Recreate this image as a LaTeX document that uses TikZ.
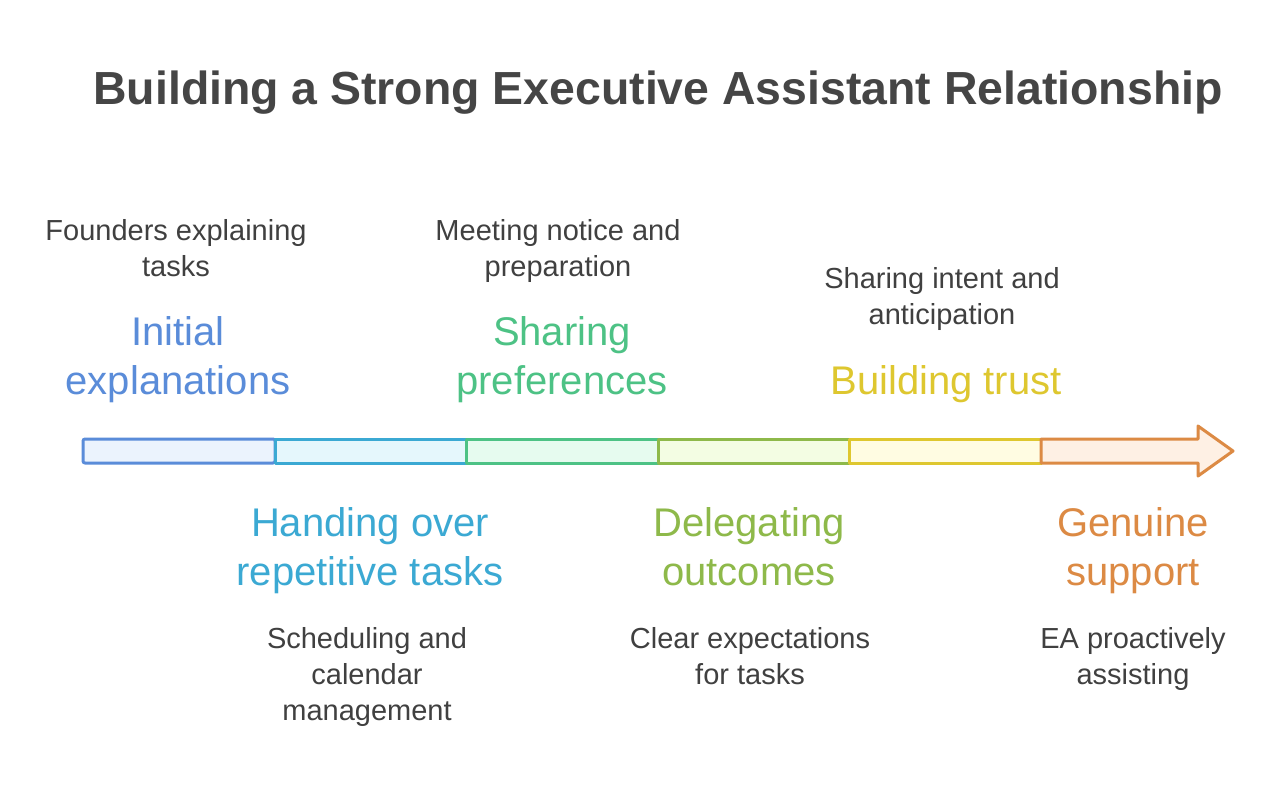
\documentclass[tikz,border=0pt]{standalone}
\usepackage{fontspec}
\setmainfont{Liberation Sans}
\definecolor{bodygray}{HTML}{404040}
\definecolor{titlegray}{HTML}{454545}
\definecolor{cA}{HTML}{5A8CD9}\definecolor{fA}{HTML}{EBF3FD}
\definecolor{cB}{HTML}{3BA9D3}\definecolor{fB}{HTML}{E5F7FC}
\definecolor{cC}{HTML}{4DC285}\definecolor{fC}{HTML}{E6FBEF}
\definecolor{cD}{HTML}{8EB94A}\definecolor{fD}{HTML}{F3FDE3}
\definecolor{cE}{HTML}{DEC72F}\definecolor{fE}{HTML}{FFFCE2}
\definecolor{cF}{HTML}{DC8A44}\definecolor{fF}{HTML}{FEF0E4}
\begin{document}
\begin{tikzpicture}[x=1pt,y=-1pt,
  bodytext/.style={font=\fontsize{29}{36}\selectfont, text=bodygray, align=center, anchor=north, inner sep=0pt},
  stagetext/.style={font=\fontsize{40}{49}\selectfont, align=center, anchor=north, inner sep=0pt},
  seg/.style={line width=3pt, line join=round}]
\fill[white] (0,0) rectangle (1274,788);
\useasboundingbox (0,0) rectangle (1274,788);
% title
\node[anchor=base, inner sep=0pt, text=titlegray, font=\fontsize{46.4}{52}\selectfont\bfseries] (title) at (658,104) {Building a Strong Executive Assistant Relationship};
% bar segments
\draw[seg, draw=cA, fill=fA, rounded corners=2pt] (83,439) rectangle (275,463);
\draw[seg, draw=cB, fill=fB] (275,439) rectangle (466,463);
\draw[seg, draw=cC, fill=fC] (466,439) rectangle (658,463);
\draw[seg, draw=cD, fill=fD] (658,439) rectangle (849,463);
\draw[seg, draw=cE, fill=fE] (849,439) rectangle (1041,463);
\draw[seg, draw=cF, fill=fF] (1041,439) -- (1198,439) -- (1198,426) -- (1233,451) -- (1198,476) -- (1198,463) -- (1041,463) -- cycle;
% upper labels
\node[bodytext] (found) at (176,219) {Founders explaining\\tasks};
\node[stagetext, text=cA] (initial) at (178,316) {Initial\\explanations};
\node[bodytext] (meet) at (558,219) {Meeting notice and\\preparation};
\node[stagetext, text=cC] (sharing) at (562,316) {Sharing\\preferences};
\node[bodytext] (intent) at (942,267) {Sharing intent and\\anticipation};
\node[stagetext, text=cE] (trust) at (946,365) {Building trust};
% lower labels
\node[stagetext, text=cB] (handing) at (370,507) {Handing over\\repetitive tasks};
\node[bodytext] (sched) at (367,627) {Scheduling and\\calendar\\management};
\node[stagetext, text=cD] (deleg) at (749,507) {Delegating\\outcomes};
\node[bodytext] (clear) at (750,627) {Clear expectations\\for tasks};
\node[stagetext, text=cF] (genuine) at (1133,507) {Genuine\\support};
\node[bodytext] (ea) at (1133,627) {EA proactively\\assisting};
\end{tikzpicture}
\end{document}
